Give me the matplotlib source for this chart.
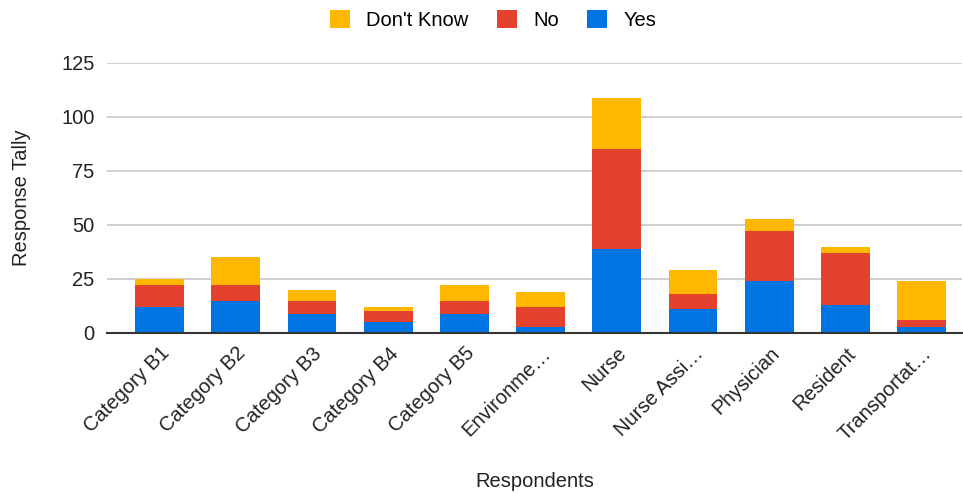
import matplotlib
matplotlib.use("Agg")
import matplotlib.pyplot as plt
import matplotlib.transforms as mtransforms
import numpy as np

plt.rcParams["font.family"] = ["Liberation Sans", "DejaVu Sans"]

categories = ["Category B1", "Category B2", "Category B3", "Category B4", "Category B5",
              "Environme…", "Nurse", "Nurse Assi…", "Physician", "Resident", "Transportat…"]
yes_vals = [12, 15, 9, 5, 9, 3, 39, 11, 24, 13, 3]
no_vals = [10, 7, 6, 5, 6, 9, 46, 7, 23, 24, 3]
dk_vals = [3, 13, 5, 2, 7, 7, 24, 11, 6, 3, 18]

YELLOW = "#FFB700"
RED = "#E5412F"
BLUE = "#0074E1"
TEXT = "#222222"

fig = plt.figure(figsize=(9.63, 4.94), dpi=100)
ax = fig.add_axes([107 / 963, 1 - 333 / 494, 855 / 963, 270 / 494])

x = np.arange(len(categories))
yes = np.array(yes_vals)
no = np.array(no_vals)
dk = np.array(dk_vals)
w = 0.64

b_yes = ax.bar(x, yes, w, color=BLUE, label="Yes", zorder=3)
b_no = ax.bar(x, no, w, bottom=yes, color=RED, label="No", zorder=3)
b_dk = ax.bar(x, dk, w, bottom=yes + no, color=YELLOW, label="Don't Know", zorder=3)

ax.set_ylim(0, 125)
ax.set_xlim(-0.69, 10.53)
ax.set_yticks([0, 25, 50, 75, 100, 125])
ax.yaxis.grid(True, color="#cccccc", linewidth=1.3, zorder=0)
ax.set_axisbelow(True)
for s in ["top", "right", "left"]:
    ax.spines[s].set_visible(False)
ax.spines["bottom"].set_color("#333333")
ax.spines["bottom"].set_linewidth(1.5)
ax.spines["bottom"].set_zorder(4)
ax.tick_params(axis="both", length=0, labelsize=14.5, colors=TEXT)
ax.tick_params(axis="y", pad=9)

ax.set_xticks(x)
ax.set_xticklabels(categories, rotation=45, ha="right", va="center",
                   rotation_mode="anchor")
ax.tick_params(axis="x", pad=14)
# nudge the slanted labels so they end just right of each bar centre
shift = mtransforms.ScaledTranslation(0.07, 0.02, fig.dpi_scale_trans)
for lbl in ax.get_xticklabels():
    lbl.set_transform(lbl.get_transform() + shift)

ax.set_ylabel("Response Tally", fontsize=14.5, color=TEXT, labelpad=22)
ax.set_xlabel("Respondents", fontsize=14.5, color=TEXT)
ax.xaxis.set_label_coords(0.5, -0.515)

ax.legend(handles=[b_dk, b_no, b_yes], loc="center", bbox_to_anchor=(493 / 963, 1 - 20 / 494),
          bbox_transform=fig.transFigure, ncol=3, frameon=False, fontsize=14.5,
          handlelength=1.0, handleheight=1.0, handletextpad=0.8, columnspacing=1.4)

fig.savefig("out.png", dpi=100, facecolor="white")
